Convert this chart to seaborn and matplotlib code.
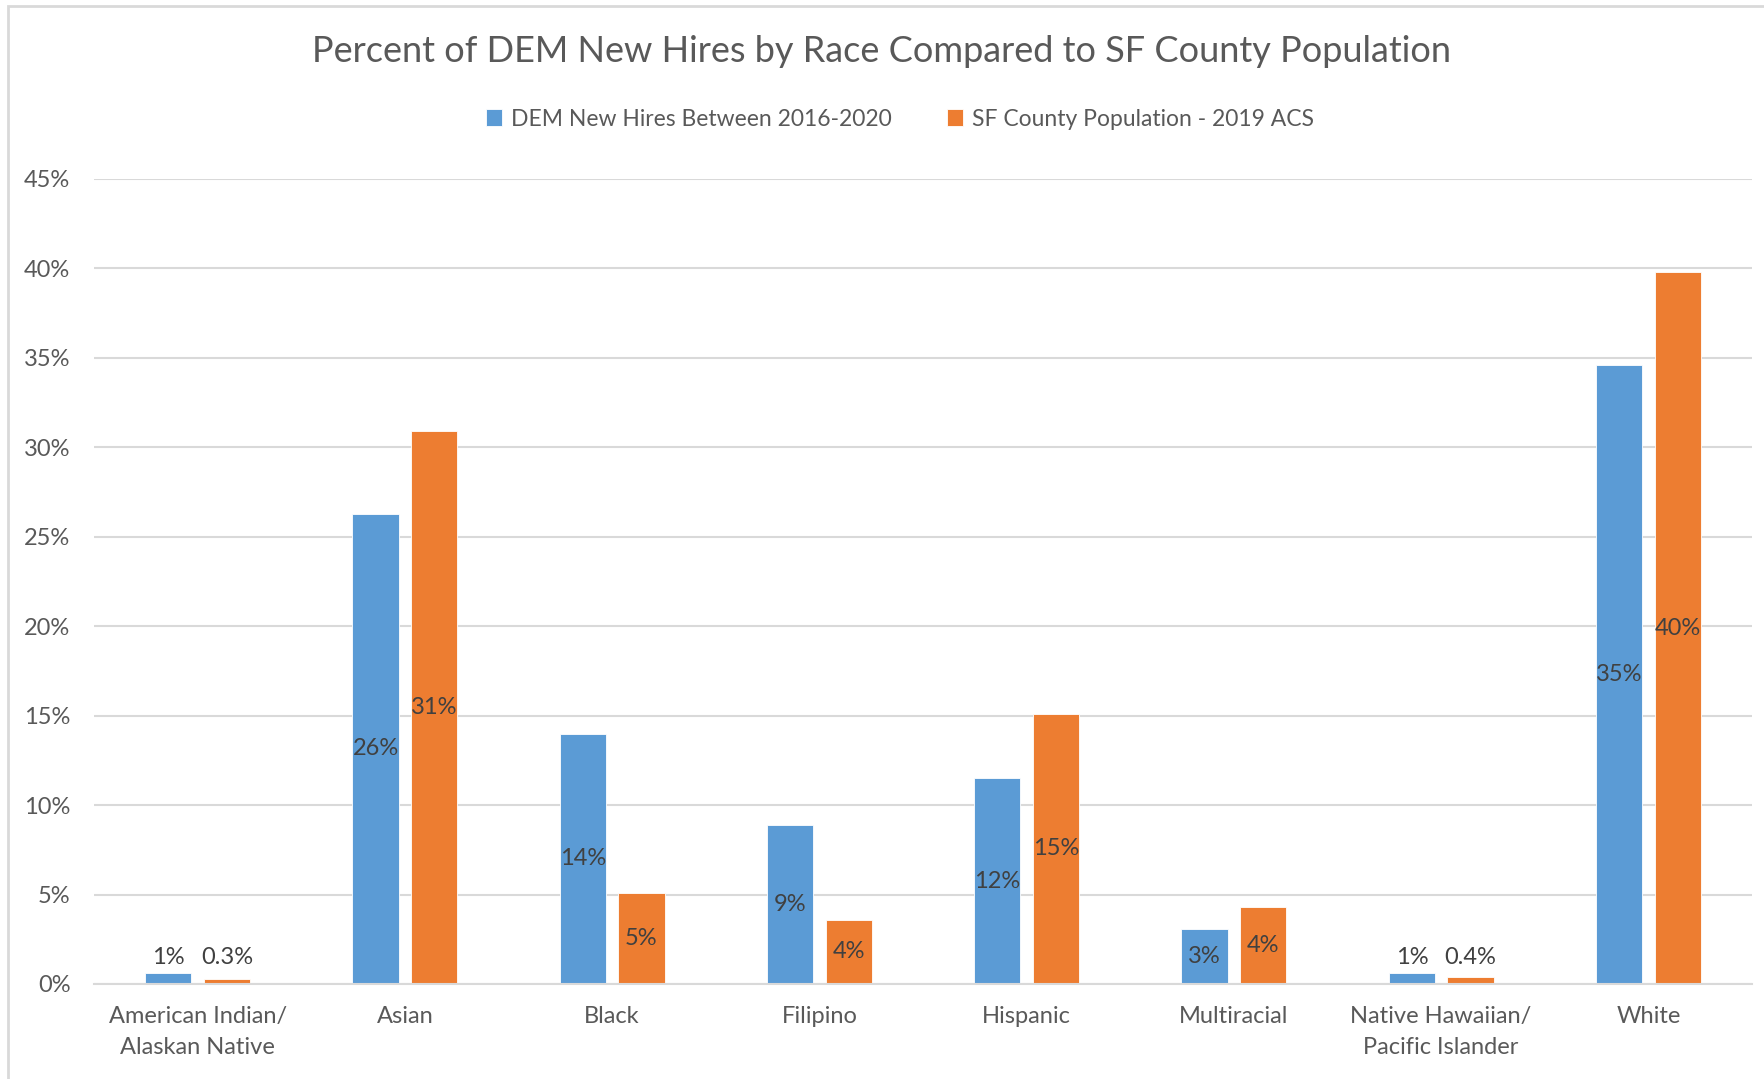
import seaborn as sns
import matplotlib.pyplot as plt
import pandas as pd
from matplotlib.patches import Rectangle

categories = ["American Indian/\nAlaskan Native", "Asian", "Black", "Filipino",
              "Hispanic", "Multiracial", "Native Hawaiian/\nPacific Islander", "White"]
series_names = ["DEM New Hires Between 2016-2020", "SF County Population - 2019 ACS"]
dem_hires = [0.6, 26.3, 14.0, 8.9, 11.5, 3.1, 0.6, 34.6]
sf_population = [0.3, 30.9, 5.1, 3.6, 15.1, 4.3, 0.4, 39.8]
dem_labels = ["1%", "26%", "14%", "9%", "12%", "3%", "1%", "35%"]
sf_labels = ["0.3%", "31%", "5%", "4%", "15%", "4%", "0.4%", "40%"]
y_ticks = [0, 5, 10, 15, 20, 25, 30, 35, 40, 45]

df = pd.DataFrame({
    "Race": categories * 2,
    "Series": [series_names[0]] * len(categories) + [series_names[1]] * len(categories),
    "Value": dem_hires + sf_population,
})
labels = {series_names[0]: dem_labels, series_names[1]: sf_labels}

sns.set_style("white")
plt.rcParams["font.family"] = ["Lato", "DejaVu Sans"]
text_col = "#595959"
grid_col = "#D9D9D9"

fig = plt.figure(figsize=(17.64, 10.79), dpi=100)
ax = fig.add_axes([94 / 1764, 1 - 984 / 1079, (1752 - 94) / 1764, (984 - 179) / 1079])

sns.barplot(data=df, x="Race", y="Value", hue="Series", order=categories,
            hue_order=series_names, palette=["#5B9BD5", "#ED7D31"], saturation=1,
            width=0.565, gap=0.21, edgecolor="white", linewidth=0.6,
            legend=False, ax=ax)

# data labels: centred in the bar, or just above small bars
for cont, name in zip(ax.containers, series_names):
    for bar, lab in zip(cont, labels[name]):
        h = bar.get_height()
        xc = bar.get_x() + bar.get_width() / 2
        yc = 1.5 if h < 2 else h / 2
        ax.text(xc, yc, lab, ha="center", va="center", fontsize=17, color="#404040")

ax.set_ylim(0, 45)
ax.set_xlim(-0.5, len(categories) - 0.5)
ax.set_yticks(y_ticks)
ax.set_yticklabels([f"{t}%" for t in y_ticks])
ax.yaxis.grid(True, color=grid_col, linewidth=1.5)
ax.set_axisbelow(True)
ax.tick_params(axis="both", length=0, labelsize=17, labelcolor=text_col)
ax.tick_params(axis="y", pad=17)
ax.tick_params(axis="x", pad=16)
for lbl in ax.get_xticklabels():
    lbl.set_linespacing(1.6)
ax.set_xlabel("")
ax.set_ylabel("")
for s in ["top", "right", "left"]:
    ax.spines[s].set_visible(False)
ax.spines["bottom"].set_color(grid_col)
ax.spines["bottom"].set_linewidth(1.5)

fig.text(0.5, 1 - 52 / 1079, "Percent of DEM New Hires by Race Compared to SF County Population",
         ha="center", va="center", fontsize=26, color=text_col)

# legend built from the bar artists
handles = [ax.containers[0][0], ax.containers[1][0]]
fig.legend(handles, series_names, loc="center", bbox_to_anchor=(0.51, 1 - 119 / 1079),
           ncol=2, frameon=False, fontsize=16.5, labelcolor=text_col,
           handlelength=0.7, handleheight=0.7, handletextpad=0.4, columnspacing=2.4)

# chart border like the spreadsheet frame
fig.patches.append(Rectangle((8 / 1764, -0.05), 1.2, 1.05 - 6 / 1079,
                             transform=fig.transFigure, fill=False,
                             edgecolor=grid_col, linewidth=2))

fig.savefig("out.png", dpi=100)
